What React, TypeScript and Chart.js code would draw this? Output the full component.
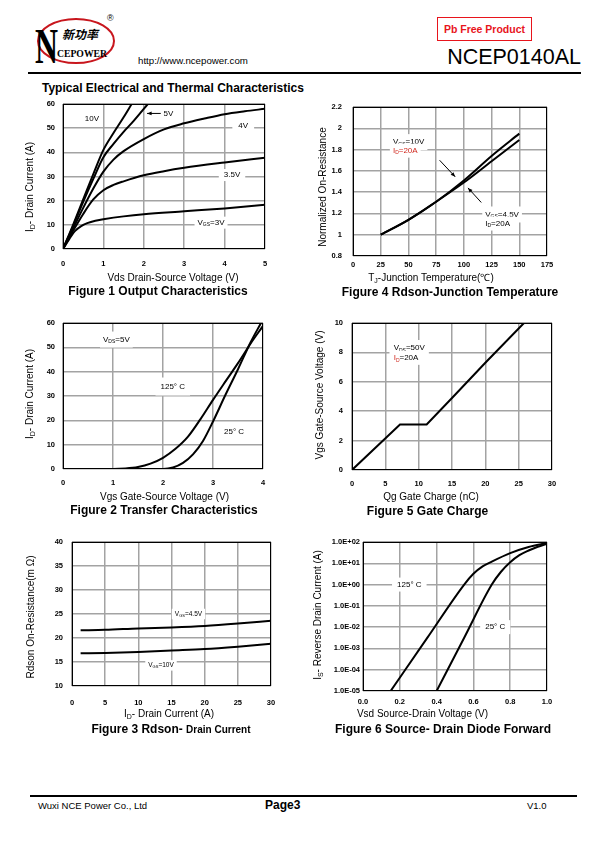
import React, { useEffect, useRef } from "react";
import { Chart, registerables } from "chart.js";
Chart.register(...registerables);

const FONT = '"Liberation Sans", Arial, Helvetica, sans-serif';
const GRID = "#a3a3a3";

// ---------- Figure 1: Output characteristics (Vds V, Id A) ----------
const f1V10x = [0, 0.25, 0.5, 0.75, 1, 1.25, 1.5, 1.7];
const f1V10y = [0, 10, 20.5, 31, 41, 48, 54.5, 60];
const f1V5x = [0, 0.25, 0.5, 0.75, 1, 1.25, 1.5, 1.75, 2.1];
const f1V5y = [0, 9.5, 19.5, 29, 38, 43.5, 48.5, 53, 60];
const f1V4x = [0, 0.25, 0.5, 0.75, 1, 1.25, 1.5, 2, 2.5, 3, 3.5, 4, 4.5, 5];
const f1V4y = [0, 8.5, 17, 25, 32, 37, 40.5, 45.5, 49.5, 52, 54, 55.8, 57, 58];
const f1V35x = [0, 0.25, 0.5, 0.75, 1, 1.25, 1.5, 2, 2.5, 3, 4, 5];
const f1V35y = [0, 7.5, 14.5, 20.5, 24.3, 26.5, 28, 30.5, 32.2, 33.6, 35.8, 37.8];
const f1V3x = [0, 0.15, 0.3, 0.45, 0.6, 0.8, 1, 1.5, 2, 3, 4, 5];
const f1V3y = [0, 4, 7.5, 9.5, 10.7, 11.7, 12.3, 13.5, 14.4, 15.6, 16.8, 18.3];

// ---------- Figure 4: Rdson vs junction temperature ----------
const f4Tj = [25, 50, 75, 100, 125, 150];
const f4Vgs10 = [1, 1.14, 1.31, 1.49, 1.69, 1.89];
const f4Vgs45 = [1, 1.14, 1.31, 1.51, 1.74, 1.95];

// ---------- Figure 2: Transfer characteristics ----------
const f2T125x = [0, 1, 1.25, 1.5, 1.75, 2, 2.25, 2.5, 2.75, 3, 3.25, 3.5, 3.75, 4];
const f2T125y = [0, 0, 0.2, 0.8, 2.2, 4.6, 8.3, 13.3, 20.5, 28.4, 36, 43.5, 51.5, 58.8];
const f2T25x = [0, 2, 2.2, 2.4, 2.6, 2.8, 3, 3.25, 3.5, 3.75, 3.96];
const f2T25y = [0, 0, 0.6, 2.5, 6, 11.5, 19.5, 30.5, 41, 52, 60];

// ---------- Figure 5: Gate charge ----------
const f5Qg = [0, 7.2, 11.2, 15, 20, 25.8];
const f5Vgs = [0, 3.1, 3.1, 4.9, 7.3, 10];

// ---------- Figure 3: Rdson vs drain current ----------
const f3Id = [1.3, 5, 10, 15, 20, 25, 30];
const f3Vgs45 = [21.6, 21.7, 22.0, 22.2, 22.5, 23.0, 23.6];
const f3Vgs10 = [16.8, 16.9, 17.1, 17.4, 17.7, 18.2, 18.8];

// ---------- Figure 6: Source-drain diode forward ----------
const f6T125x = [0.15, 0.35, 0.55, 0.6, 0.65, 0.7, 0.8, 0.9, 1.0];
const f6T125y = [1e-5, 3.2e-3, 1, 3.2, 7.1, 12, 30, 58, 89];
const f6T25x = [0.4, 0.55, 0.7, 0.75, 0.8, 0.85, 0.9, 0.95, 1.0];
const f6T25y = [1e-5, 3.2e-3, 1, 4, 11.2, 24, 40, 60, 83];
const f6Decades = [-5, -4, -3, -2, -1, 0, 1, 2];

type Part = { t: string; sub?: boolean; color?: string };
type Note = { parts: Part[]; x: number; y: number; size?: number; padX?: number; padY?: number };
type Arrow = { x1: number; y1: number; x2: number; y2: number };
type Series = { x: number[]; y: number[] };

const YW = 60, RP = 14, TP = 8, XH = 24;

function drawNote(ctx: CanvasRenderingContext2D, n: Note, px: number, py: number) {
  const size = n.size ?? 8;
  const sub = Math.max(4, Math.round(size * 0.65));
  const widths = n.parts.map((p) => {
    ctx.font = `${p.sub ? sub : size}px ${FONT}`;
    return ctx.measureText(p.t).width;
  });
  const w = widths.reduce((a, b) => a + b, 0);
  const padX = n.padX ?? 3, padY = n.padY ?? 2;
  ctx.fillStyle = "#fff";
  ctx.fillRect(px - padX, py - size / 2 - padY, w + 2 * padX, size + 2 * padY);
  ctx.textBaseline = "middle";
  ctx.textAlign = "left";
  let cx = px;
  n.parts.forEach((p, i) => {
    ctx.font = `${p.sub ? sub : size}px ${FONT}`;
    ctx.fillStyle = p.color ?? "#000";
    ctx.fillText(p.t, cx, py + (p.sub ? size * 0.3 : 0));
    cx += widths[i];
  });
}

function decor(notes: Note[], arrows: Arrow[]) {
  return {
    id: "decor",
    beforeDatasetsDraw(chart: any) {
      const { ctx, scales } = chart;
      ctx.save();
      notes.forEach((n) => drawNote(ctx, n, scales.x.getPixelForValue(n.x), scales.y.getPixelForValue(n.y)));
      ctx.restore();
    },
    afterDatasetsDraw(chart: any) {
      const { ctx, chartArea: a, scales } = chart;
      ctx.save();
      ctx.strokeStyle = "#000";
      ctx.lineWidth = 1;
      ctx.strokeRect(a.left + 0.5, a.top + 0.5, a.right - a.left - 1, a.bottom - a.top - 1);
      arrows.forEach((ar) => {
        const x1 = scales.x.getPixelForValue(ar.x1), y1 = scales.y.getPixelForValue(ar.y1);
        const x2 = scales.x.getPixelForValue(ar.x2), y2 = scales.y.getPixelForValue(ar.y2);
        const ang = Math.atan2(y2 - y1, x2 - x1);
        ctx.beginPath();
        ctx.moveTo(x1, y1);
        ctx.lineTo(x2, y2);
        ctx.stroke();
        ctx.beginPath();
        ctx.moveTo(x2, y2);
        ctx.lineTo(x2 - 5 * Math.cos(ang - 0.4), y2 - 5 * Math.sin(ang - 0.4));
        ctx.lineTo(x2 - 5 * Math.cos(ang + 0.4), y2 - 5 * Math.sin(ang + 0.4));
        ctx.closePath();
        ctx.fillStyle = "#000";
        ctx.fill();
      });
      ctx.restore();
    },
  };
}

const tickFont = { family: FONT, size: 7.5, weight: "bold" as const };

function lin(min: number, max: number, step: number, pad: number, fmt: (v: number) => string) {
  return {
    type: "linear",
    min,
    max,
    ticks: { stepSize: step, padding: pad, color: "#000", font: tickFont, autoSkip: false, maxRotation: 0, callback: (v: any) => fmt(Number(v)) },
    grid: { color: GRID, lineWidth: 1.5, drawTicks: false },
    border: { display: false },
  };
}

const intFmt = (v: number) => String(Math.round(v));
const oneDec = (v: number) => String(+v.toFixed(1));
const fixed1 = (v: number) => v.toFixed(1);
const expFmt = (v: number) => {
  const e = Math.round(Math.log10(v));
  return `1.0E${e < 0 ? "-" : "+"}${String(Math.abs(e)).padStart(2, "0")}`;
};

interface PlotProps {
  rect: [number, number, number, number];
  x: any;
  y: any;
  series: Series[];
  smooth: boolean;
  notes: Note[];
  arrows: Arrow[];
}

function Plot(p: PlotProps) {
  const ref = useRef<HTMLCanvasElement>(null);
  const [l, t, r, b] = p.rect;
  const W = r - l + YW + RP;
  const H = b - t + TP + XH;
  useEffect(() => {
    const xs = { ...p.x, afterFit: (s: any) => { s.height = XH; s.paddingLeft = 0; s.paddingRight = 0; } };
    const ys = { ...p.y, afterFit: (s: any) => { s.width = YW; s.paddingTop = 0; s.paddingBottom = 0; } };
    const chart = new Chart(ref.current as HTMLCanvasElement, {
      type: "line",
      data: {
        datasets: p.series.map((s) => ({
          data: s.x.map((v, i) => ({ x: v, y: s.y[i] })),
          borderColor: "#000",
          borderWidth: 2,
          pointRadius: 0,
          fill: false,
          tension: 0,
          cubicInterpolationMode: p.smooth ? "monotone" : "default",
        })),
      } as any,
      options: {
        responsive: false,
        animation: false,
        devicePixelRatio: 1,
        events: [],
        layout: { padding: { left: 0, top: TP, right: RP, bottom: 0 } },
        plugins: { legend: { display: false }, tooltip: { enabled: false }, title: { display: false } },
        scales: { x: xs, y: ys },
      } as any,
      plugins: [decor(p.notes, p.arrows) as any],
    });
    return () => chart.destroy();
  }, []);
  return (
    <canvas
      ref={ref}
      width={W}
      height={H}
      style={{ position: "absolute", left: l - YW, top: t - TP, width: W, height: H }}
    />
  );
}

function T(props: { x: number; y: number; size?: number; bold?: boolean; align?: "left" | "center" | "right"; color?: string; children: any }) {
  const { x, y, size = 10, bold = false, align = "center", color = "#000" } = props;
  const tx = align === "center" ? "-50%" : align === "right" ? "-100%" : "0";
  return (
    <div
      style={{
        position: "absolute",
        left: x,
        top: y,
        transform: `translate(${tx},-50%)`,
        fontSize: size,
        fontWeight: bold ? 700 : 400,
        color,
        whiteSpace: "nowrap",
        lineHeight: 1.15,
        fontFamily: FONT,
      }}
    >
      {props.children}
    </div>
  );
}

// rotated (vertical) axis title centred on integer (x, y)
function RT(props: { x: number; y: number; size?: number; children: any }) {
  const w = 260, h = 14;
  return (
    <div
      style={{
        position: "absolute",
        left: Math.round(props.x) - w / 2,
        top: Math.round(props.y) - h / 2,
        width: w,
        height: h,
        lineHeight: `${h}px`,
        textAlign: "center",
        fontSize: props.size ?? 10,
        fontFamily: FONT,
        color: "#000",
        whiteSpace: "nowrap",
        transform: "rotate(-90deg)",
      }}
    >
      {props.children}
    </div>
  );
}

const Sub = (p: { children: any }) => (
  <span style={{ fontSize: "0.7em", position: "relative", top: "0.3em", lineHeight: 0 }}>{p.children}</span>
);

export default function App() {
  return (
    <div style={{ position: "absolute", left: 0, top: 0, width: 595, height: 842, background: "#fff", fontFamily: FONT, overflow: "hidden" }}>
      {/* Header */}
      <svg width={140} height={75} style={{ position: "absolute", left: 0, top: 0 }}>
        <ellipse cx={76} cy={41} rx={38} ry={22} fill="none" stroke="#c8161d" strokeWidth={2} />
        <text x={35} y={63} fontFamily='"Liberation Serif", serif' fontWeight="bold" fontSize={50} textLength={23} lengthAdjust="spacingAndGlyphs">N</text>
        <text x={62} y={39} fontFamily='"Noto Sans CJK SC", sans-serif' fontWeight="bold" fontStyle="italic" fontSize={12} textLength={36} lengthAdjust="spacingAndGlyphs">新功率</text>
        <text x={57} y={57} fontFamily='"Liberation Serif", serif' fontWeight="bold" fontSize={11} textLength={50} lengthAdjust="spacingAndGlyphs">CEPOWER</text>
        <text x={107} y={21} fontFamily={FONT} fontSize={9}>®</text>
      </svg>
      <T x={138} y={61} size={9.7} align="left">http://www.ncepower.com</T>
      <div style={{ position: "absolute", left: 437, top: 17, width: 93, height: 22, border: "1.5px solid #e8141c", display: "flex", alignItems: "center", justifyContent: "center", color: "#e8141c", fontWeight: 700, fontSize: 10.5, fontFamily: FONT }}>
        Pb Free Product
      </div>
      <T x={581} y={57} size={21.5} align="right">NCEP0140AL</T>
      <div style={{ position: "absolute", left: 28, top: 72, width: 553, height: 2, background: "#000" }} />
      <T x={42} y={89} size={12} bold align="left">Typical Electrical and Thermal Characteristics</T>

      {/* Figure 1 */}
      <Plot
        rect={[63, 104, 265, 249]}
        x={lin(0, 5, 1, 10, intFmt)}
        y={lin(0, 60, 10, 8, intFmt)}
        smooth
        series={[
          { x: f1V10x, y: f1V10y },
          { x: f1V5x, y: f1V5y },
          { x: f1V4x, y: f1V4y },
          { x: f1V35x, y: f1V35y },
          { x: f1V3x, y: f1V3y },
        ]}
        notes={[
          { parts: [{ t: "10V" }], x: 0.54, y: 54 },
          { parts: [{ t: "5V" }], x: 2.49, y: 56.1 },
          { parts: [{ t: "4V" }], x: 4.34, y: 51, padX: 6 },
          { parts: [{ t: "3.5V" }], x: 3.98, y: 30.6, padX: 5 },
          { parts: [{ t: "V" }, { t: "GS", sub: true }, { t: "=3V" }], x: 3.33, y: 10.9, padX: 3 },
        ]}
        arrows={[{ x1: 2.42, y1: 56.1, x2: 2.08, y2: 56.1 }]}
      />
      <T x={173} y={278} size={10}>Vds Drain-Source Voltage (V)</T>
      <RT x={30} y={187}>I<Sub>D</Sub>- Drain Current (A)</RT>
      <T x={158} y={292} size={12} bold>Figure 1 Output Characteristics</T>

      {/* Figure 4 */}
      <Plot
        rect={[353, 107, 547, 256]}
        x={lin(0, 175, 25, 4, intFmt)}
        y={lin(0.8, 2.2, 0.2, 11, oneDec)}
        smooth
        series={[
          { x: f4Tj, y: f4Vgs45 },
          { x: f4Tj, y: f4Vgs10 },
        ]}
        notes={[
          { parts: [{ t: "V" }, { t: "GS", sub: true }, { t: "=10V" }], x: 36, y: 1.87, padY: 4 },
          { parts: [{ t: "I", color: "#d0281e" }, { t: "D", sub: true, color: "#d0281e" }, { t: "=20A", color: "#d0281e" }], x: 36, y: 1.79, padY: 3 },
          { parts: [{ t: "V" }, { t: "GS", sub: true }, { t: "=4.5V" }], x: 119.3, y: 1.19, padY: 4 },
          { parts: [{ t: "I" }, { t: "D", sub: true }, { t: "=20A" }], x: 119.3, y: 1.105, padY: 3 },
        ]}
        arrows={[
          { x1: 78.1, y1: 1.7, x2: 92.2, y2: 1.544 },
          { x1: 115.7, y1: 1.303, x2: 103.7, y2: 1.44 },
        ]}
      />
      <T x={431} y={278} size={10}>T<Sub>J</Sub>-Junction Temperature(℃)</T>
      <RT x={323} y={187}>Normalized On-Resistance</RT>
      <T x={450} y={293} size={12} bold>Figure 4 Rdson-Junction Temperature</T>

      {/* Figure 2 */}
      <Plot
        rect={[63, 323, 263, 469]}
        x={lin(0, 4, 1, 9, intFmt)}
        y={lin(0, 60, 10, 8, intFmt)}
        smooth
        series={[
          { x: f2T125x, y: f2T125y },
          { x: f2T25x, y: f2T25y },
        ]}
        notes={[
          { parts: [{ t: "V" }, { t: "DS", sub: true }, { t: "=5V" }], x: 0.8, y: 53.2, padY: 4 },
          { parts: [{ t: "125° C" }], x: 1.95, y: 33.9, padX: 5, padY: 5 },
          { parts: [{ t: "25° C" }], x: 3.22, y: 15.4, padX: 3, padY: 3 },
        ]}
        arrows={[]}
      />
      <T x={164.5} y={497} size={10}>Vgs Gate-Source Voltage (V)</T>
      <RT x={30} y={394}>I<Sub>D</Sub>- Drain Current (A)</RT>
      <T x={164} y={511} size={12} bold>Figure 2 Transfer Characteristics</T>

      {/* Figure 5 */}
      <Plot
        rect={[352, 323, 552, 470]}
        x={lin(0, 30, 5, 9, intFmt)}
        y={lin(0, 10, 2, 9, intFmt)}
        smooth={false}
        series={[{ x: f5Qg, y: f5Vgs }]}
        notes={[
          { parts: [{ t: "V" }, { t: "DS", sub: true }, { t: "=50V" }], x: 6.25, y: 8.3, padX: 4, padY: 4 },
          { parts: [{ t: "I", color: "#d0281e" }, { t: "D", sub: true, color: "#d0281e" }, { t: "=20A" }], x: 6.25, y: 7.63, padX: 4, padY: 3 },
        ]}
        arrows={[]}
      />
      <T x={431} y={497} size={10}>Qg Gate Charge (nC)</T>
      <RT x={320} y={395}>Vgs Gate-Source Voltage (V)</RT>
      <T x={427.5} y={512} size={12} bold>Figure 5 Gate Charge</T>

      {/* Figure 3 */}
      <Plot
        rect={[72, 542, 271, 686]}
        x={lin(0, 30, 5, 12, intFmt)}
        y={lin(10, 40, 5, 9, intFmt)}
        smooth
        series={[
          { x: f3Id, y: f3Vgs45 },
          { x: f3Id, y: f3Vgs10 },
        ]}
        notes={[
          { parts: [{ t: "V" }, { t: "GS", sub: true }, { t: "=4.5V" }], x: 15.5, y: 25, size: 6.5, padX: 3 },
          { parts: [{ t: "V" }, { t: "GS", sub: true }, { t: "=10V" }], x: 11.5, y: 14.3, size: 6.5, padX: 3 },
        ]}
        arrows={[]}
      />
      <T x={169} y={714} size={10}>I<Sub>D</Sub>- Drain Current (A)</T>
      <RT x={31} y={617}>Rdson On-Resistance(m Ω)</RT>
      <T x={171} y={730} size={12} bold>Figure 3 Rdson- <span style={{ fontSize: 10 }}>Drain Current</span></T>

      {/* Figure 6 */}
      <Plot
        rect={[363, 542, 547, 691]}
        x={lin(0, 1, 0.2, 6, fixed1)}
        y={{
          type: "logarithmic",
          min: 1e-5,
          max: 1e2,
          afterBuildTicks: (s: any) => { s.ticks = f6Decades.map((e) => ({ value: Math.pow(10, e) })); },
          ticks: { padding: 3, color: "#000", font: tickFont, autoSkip: false, callback: (v: any) => expFmt(Number(v)) },
          grid: { color: GRID, lineWidth: 1.5, drawTicks: false },
          border: { display: false },
        }}
        smooth
        series={[
          { x: f6T125x, y: f6T125y },
          { x: f6T25x, y: f6T25y },
        ]}
        notes={[
          { parts: [{ t: "125° C" }], x: 0.185, y: 1, padX: 5, padY: 3 },
          { parts: [{ t: "25° C" }], x: 0.664, y: 1e-2, padX: 5, padY: 3 },
        ]}
        arrows={[]}
      />
      <T x={422.5} y={714} size={10}>Vsd Source-Drain Voltage (V)</T>
      <RT x={318} y={615}>I<Sub>S</Sub>- Reverse Drain Current (A)</RT>
      <T x={443} y={730} size={12} bold>Figure 6 Source- Drain Diode Forward</T>

      {/* Footer */}
      <div style={{ position: "absolute", left: 30, top: 795, width: 547, height: 2, background: "#000" }} />
      <T x={38} y={806} size={9.5} align="left">Wuxi NCE Power Co., Ltd</T>
      <T x={265} y={806} size={12} bold align="left">Page3</T>
      <T x={527} y={806} size={9.5} align="left">V1.0</T>
    </div>
  );
}
